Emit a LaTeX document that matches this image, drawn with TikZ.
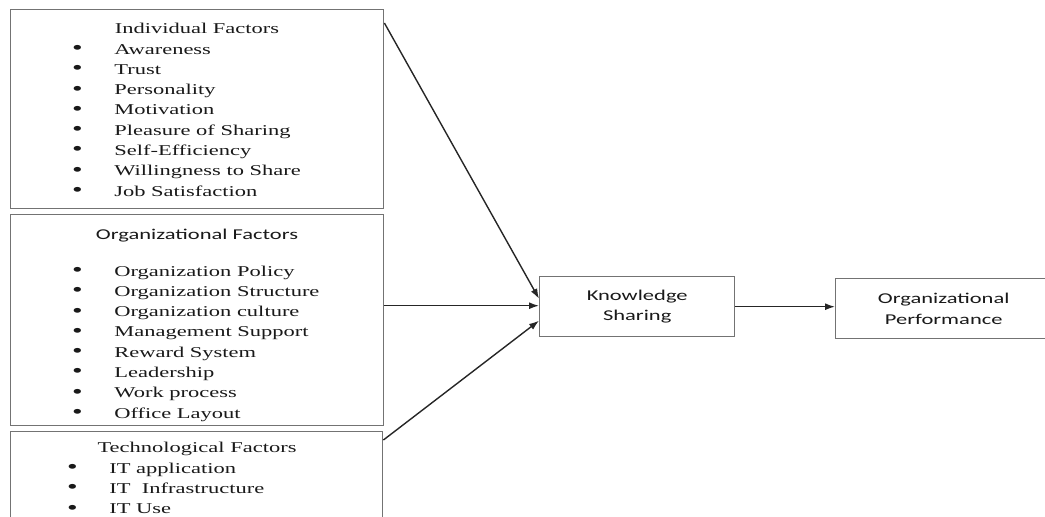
\documentclass[tikz,border=0pt]{standalone}
\usepackage{fontspec}
\setmainfont{Liberation Serif}
\newfontfamily\carlito{Carlito}
\usepackage{graphicx}
\usetikzlibrary{calc,arrows.meta}
\def\wide#1{\scalebox{1.5}[1]{#1}}
\def\blt{\raisebox{-0.4pt}{\scalebox{1.35}{\textbullet}}}
\newcommand\itemlist[1]{\wide{\begin{tabular}[t]{@{}l@{\hspace{21pt}}l@{}}#1\end{tabular}}}

\begin{document}
\begin{tikzpicture}[x=1pt, y=-1pt,
		box/.style={draw=black!55, line width=1.4pt, inner sep=0pt, anchor=north west},
		txt/.style={inner sep=0pt, text=black!90, font=\fontsize{15}{20.3}\selectfont},
		arr/.style={-{Latex[length=10pt,width=7pt]}, line width=1.4pt, draw=black!85}]
			%%%%% START %%%%%
			
			\useasboundingbox (0,0) rectangle (1045,517);
			
			% individual factors
			\node[box, minimum width=373pt, minimum height=199pt] (ind) at (10,9) {};
			\node[txt, anchor=base] (ind-title) at (197,33) {\wide{Individual Factors}};
			\node[txt, anchor=base west] (ind-list) at (72,54) {\itemlist{%
				\blt & Awareness\\
				\blt & Trust\\
				\blt & Personality\\
				\blt & Motivation\\
				\blt & Pleasure of Sharing\\
				\blt & Self-Efficiency\\
				\blt & Willingness to Share\\
				\blt & Job Satisfaction}};
			
			% organizational factors
			\node[box, minimum width=373pt, minimum height=211pt] (org) at (10,214) {};
			\node[txt, anchor=base] (org-title) at (197,239) {\wide{\carlito Organizational Factors}};
			\node[txt, anchor=base west] (org-list) at (72,276) {\itemlist{%
				\blt & Organization Policy\\
				\blt & Organization Structure\\
				\blt & Organization culture\\
				\blt & Management Support\\
				\blt & Reward System\\
				\blt & Leadership\\
				\blt & Work process\\
				\blt & Office Layout}};
			
			% technological factors
			\node[box, minimum width=372pt, minimum height=110pt] (tech) at (10,431) {};
			\node[txt, anchor=base] (tech-title) at (197,452) {\wide{Technological Factors}};
			\node[txt, anchor=base west] (tech-list) at (67,473) {\itemlist{%
				\blt & IT application\\
				\blt & IT\ \ Infrastructure\\
				\blt & IT Use}};
			
			% right side
			\node[box, txt, align=center, minimum width=195pt, minimum height=60pt] (ks) at (539,276)
				{\wide{\carlito Knowledge}\\\wide{\carlito Sharing}};
			\node[box, txt, align=center, minimum width=216pt, minimum height=60pt] (op) at (835,278)
				{\wide{\carlito Organizational}\\\wide{\carlito Performance}};
			
			\draw[arr] ($(ind.north east)+(0,14)$) -- ($(ks.west)+(0,-8)$);
			\draw[arr] ($(org.east)+(0,-14.5)$) -- ($(ks.west)+(0,-1)$);
			\draw[arr] ($(tech.north east)+(0,9)$) -- ($(ks.west)+(0,14)$);
			\draw[arr] (ks.east) -- (ks.east -| op.west);
			
			%%%%% END %%%%%
\end{tikzpicture}
\end{document}
